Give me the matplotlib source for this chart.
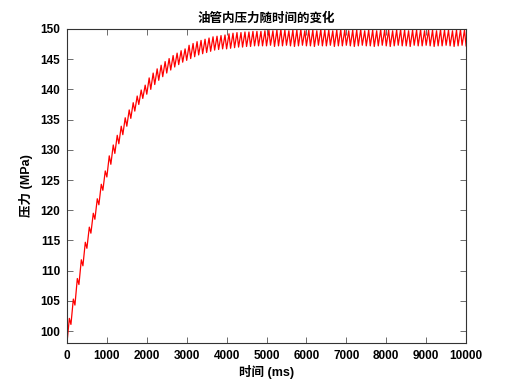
import numpy as np
import matplotlib
matplotlib.use("Agg")
import matplotlib.pyplot as plt

plt.rcParams['font.family'] = ['Liberation Sans', 'Noto Sans CJK SC', 'DejaVu Sans']
plt.rcParams['font.weight'] = 'bold'

# pressure in the pipe, one pump cycle every 100 ms
cycle_ms = 100
peak_offset_ms = 60

# trough at the start of each cycle (MPa)
p_low = [
    98.0, 101.1, 104.3, 107.7, 110.8, 113.7, 116.2, 118.5, 120.9, 123.3,
    125.5, 127.6, 129.4, 131.0, 132.5, 133.9, 135.2, 136.4, 137.5, 138.5,
    139.2, 140.0, 140.8, 141.5, 142.1, 142.7, 143.2, 143.7, 144.1, 144.5,
    144.8, 145.1, 145.4, 145.7, 145.9, 146.1, 146.3, 146.5, 146.6, 146.7,
    146.7, 146.8, 146.9, 147.0, 147.0, 147.1, 147.1, 147.2, 147.2, 147.2,
    147.2, 147.3, 147.1, 147.2, 147.2, 147.3, 147.2, 147.1, 147.2, 147.3,
    147.2, 147.2, 147.1, 147.3, 147.2, 147.2, 147.3, 147.1, 147.2, 147.2,
    147.3, 147.2, 147.1, 147.2, 147.3, 147.2, 147.2, 147.1, 147.2, 147.3,
    147.2, 147.1, 147.2, 147.3, 147.2, 147.2, 147.1, 147.3, 147.2, 147.2,
    147.3, 147.2, 147.1, 147.2, 147.2, 147.3, 147.2, 147.1, 147.2, 147.3,
]

# peak inside each cycle (MPa)
p_high = [
    102.1, 105.3, 108.7, 111.8, 114.7, 117.2, 119.5, 121.9, 124.3, 126.5,
    129.0, 130.8, 132.4, 133.9, 135.3, 136.6, 137.8, 138.9, 139.9, 140.7,
    141.9, 142.7, 143.4, 144.0, 144.6, 145.1, 145.6, 146.0, 146.4, 146.7,
    147.3, 147.6, 147.9, 148.1, 148.3, 148.5, 148.7, 148.8, 148.9, 149.0,
    149.2, 149.3, 149.4, 149.4, 149.5, 149.5, 149.6, 149.6, 149.6, 149.7,
    149.8, 149.7, 149.8, 149.9, 149.8, 149.7, 149.8, 149.8, 149.9, 149.7,
    149.8, 149.8, 149.7, 149.9, 149.8, 149.8, 149.7, 149.8, 149.9, 149.8,
    149.7, 149.8, 149.8, 149.9, 149.7, 149.8, 149.8, 149.7, 149.9, 149.8,
    149.8, 149.7, 149.8, 149.9, 149.8, 149.7, 149.8, 149.8, 149.9, 149.7,
    149.8, 149.8, 149.7, 149.9, 149.8, 149.8, 149.7, 149.8, 149.9, 149.8,
]
p_end = 147.2

t_start = np.arange(len(p_low)) * cycle_ms
t = np.empty(2 * len(p_low) + 1)
p = np.empty(2 * len(p_low) + 1)
t[0:-1:2] = t_start
t[1::2] = t_start + peak_offset_ms
t[-1] = len(p_low) * cycle_ms
p[0:-1:2] = p_low
p[1::2] = p_high
p[-1] = p_end

fig = plt.figure(figsize=(5.15, 3.86), dpi=100)
ax = fig.add_axes([0.13, 0.111, 0.775, 0.814])
ax.plot(t, p, color='red', linewidth=0.9)

ax.set_xlim(0, 10000)
ax.set_ylim(98, 150)
ax.set_xticks(np.arange(0, 10001, 1000))
ax.set_yticks(np.arange(100, 151, 5))
ax.tick_params(direction='in', top=True, right=True, length=4, width=0.6,
               labelsize=8.5, color='#555555', pad=5)
for lab in ax.get_xticklabels() + ax.get_yticklabels():
    lab.set_fontweight('bold')
for s in ax.spines.values():
    s.set_linewidth(0.8)
    s.set_color('#333333')

ax.set_xlabel('时间 (ms)', fontsize=9, fontweight='bold', labelpad=2)
ax.set_ylabel('压力 (MPa)', fontsize=9, fontweight='bold', labelpad=5)
ax.set_title('油管内压力随时间的变化', fontsize=9, fontweight='bold', pad=5)

fig.savefig('out.png', dpi=100)
